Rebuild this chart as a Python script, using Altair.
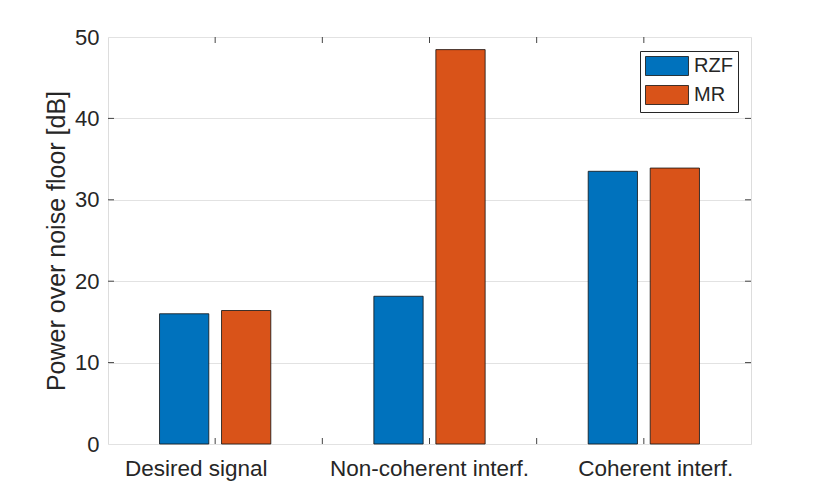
import altair as alt
import pandas as pd

categories = ["Desired signal", "Non-coherent interf.", "Coherent interf."]
methods = ["RZF", "MR"]
rzf_values = [16.0, 18.15, 33.5]
mr_values = [16.4, 48.45, 33.9]
y_ticks = [0, 10, 20, 30, 40, 50]
colors = ["#0072BD", "#D95319"]

rows = []
for c, r, m in zip(categories, rzf_values, mr_values):
    rows.append({"category": c, "method": "RZF", "value": r})
    rows.append({"category": c, "method": "MR", "value": m})
df = pd.DataFrame(rows)

W, H = 643, 407
TXT = "#262626"
FONT = "Liberation Sans"

xscale = alt.Scale(domain=categories, paddingInner=0, paddingOuter=0)
yscale = alt.Scale(domain=[0, 50], nice=False)

label_shift = alt.ExprRef(
    "datum.value == 'Desired signal' ? -19 : (datum.value == 'Coherent interf.' ? 12 : 0)"
)

bars = alt.Chart(df).mark_bar(stroke="#111111", strokeWidth=0.8, opacity=1).encode(
    x=alt.X("category:N", scale=xscale, sort=categories,
            axis=alt.Axis(title=None, labelAngle=0, ticks=False, domain=False,
                          labelFontSize=22.5, labelColor=TXT, labelFont=FONT,
                          labelPadding=13, grid=False, labelLimit=0,
                          labelOffset=label_shift)),
    xOffset=alt.XOffset("method:N", sort=methods,
                        scale=alt.Scale(domain=methods, paddingInner=0.205, paddingOuter=0.831)),
    y=alt.Y("value:Q", scale=yscale,
            axis=alt.Axis(title="Power over noise floor [dB]", values=y_ticks,
                          ticks=False, domain=False, labelFontSize=22, labelColor=TXT,
                          labelFont=FONT, labelPadding=9, grid=True,
                          gridColor="#e2e2e2", gridWidth=1,
                          titleFontSize=25, titleFont=FONT, titleColor=TXT,
                          titleFontWeight="normal", titleX=-52, titleY=H / 2,
                          titleBaseline="middle", titleAngle=270)),
    color=alt.Color("method:N", sort=methods,
                    scale=alt.Scale(domain=methods, range=colors),
                    legend=alt.Legend(title=None, orient="none", legendX=532, legendY=14,
                                      symbolType="M-1,-1L3.526,-1L3.526,1L-1,1Z",
                                      symbolSize=361, symbolStrokeColor="#111111",
                                      symbolStrokeWidth=0.8, symbolOpacity=1,
                                      labelFontSize=20, labelFont=FONT, labelColor=TXT,
                                      labelOffset=29, rowPadding=5, padding=5,
                                      strokeColor=TXT, fillColor="white")),
)

tick_df = pd.DataFrame({"category": categories})
half_df = pd.DataFrame({"category": categories[1:]})
ytick_df = pd.DataFrame({"v": y_ticks[1:-1]})

tick_color = "#444444"
xt_bottom = alt.Chart(tick_df).mark_rule(color=tick_color, strokeWidth=1).encode(
    x=alt.X("category:N", scale=xscale, sort=categories, bandPosition=0.5),
    y=alt.value(H), y2=alt.value(H - 6))
xt_top = alt.Chart(tick_df).mark_rule(color=tick_color, strokeWidth=1).encode(
    x=alt.X("category:N", scale=xscale, sort=categories, bandPosition=0.5),
    y=alt.value(0), y2=alt.value(6))
xh_bottom = alt.Chart(half_df).mark_rule(color=tick_color, strokeWidth=1).encode(
    x=alt.X("category:N", scale=xscale, sort=categories, bandPosition=0),
    y=alt.value(H), y2=alt.value(H - 6))
xh_top = alt.Chart(half_df).mark_rule(color=tick_color, strokeWidth=1).encode(
    x=alt.X("category:N", scale=xscale, sort=categories, bandPosition=0),
    y=alt.value(0), y2=alt.value(6))
yt_left = alt.Chart(ytick_df).mark_rule(color=tick_color, strokeWidth=1).encode(
    y=alt.Y("v:Q", scale=yscale), x=alt.value(0), x2=alt.value(6))
yt_right = alt.Chart(ytick_df).mark_rule(color=tick_color, strokeWidth=1).encode(
    y=alt.Y("v:Q", scale=yscale), x=alt.value(W), x2=alt.value(W - 6))

chart = alt.layer(bars, xt_bottom, xt_top, xh_bottom, xh_top, yt_left, yt_right).properties(
    width=W, height=H,
    autosize=alt.AutoSizeParams(type="none"),
    padding={"left": 100, "top": 29, "right": 60, "bottom": 40},
).configure_view(stroke="#555555", strokeWidth=1).configure(background="white")

chart.save("out.html", embed_options={"renderer": "svg", "actions": False})
